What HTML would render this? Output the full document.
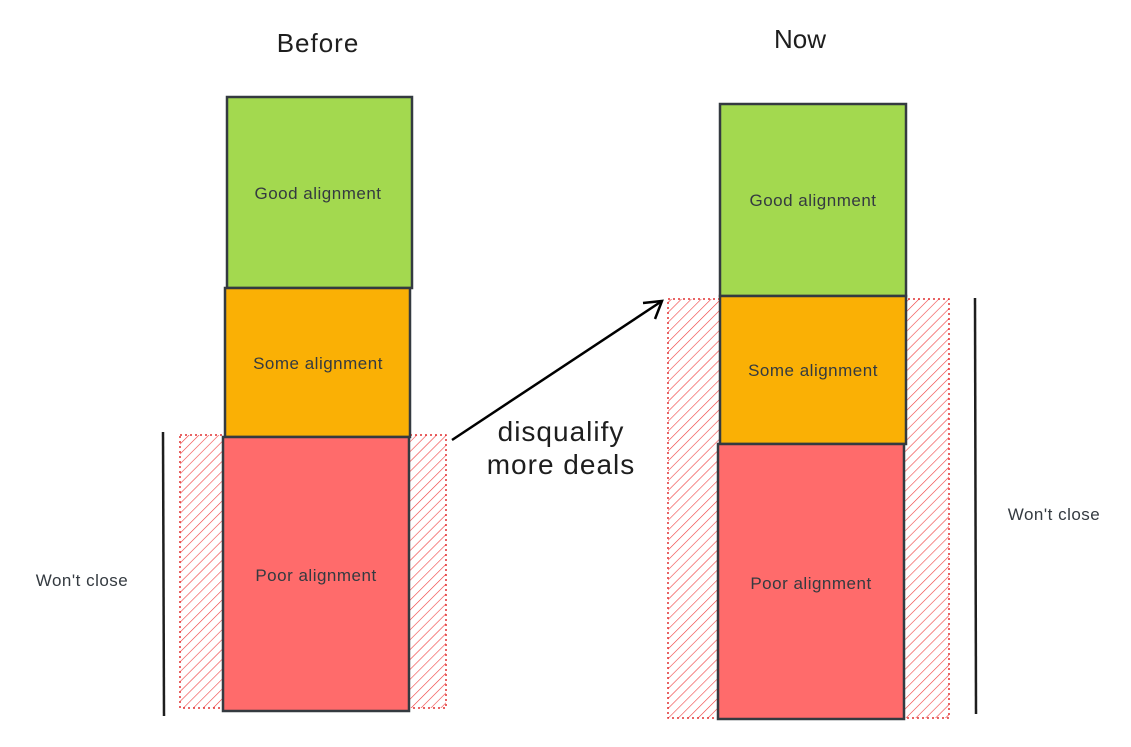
<!DOCTYPE html>
<html><head><style>
html,body{margin:0;padding:0;background:#fff;}
svg{display:block;}
text{font-family:"Comic Sans MS","Liberation Sans",sans-serif;fill:#1e1e1e;}
.l{font-size:17px;fill:#343a40;letter-spacing:0.5px;}
</style></head><body>
<svg width="1131" height="747" viewBox="0 0 1131 747">
<defs>
<pattern id="h" patternUnits="userSpaceOnUse" width="7" height="7" patternTransform="rotate(45)">
<line x1="0" y1="0" x2="0" y2="7" stroke="#f03e3e" stroke-width="1.2"/>
</pattern>
</defs>
<!-- left -->
<rect x="180" y="435" width="266" height="273" fill="url(#h)" stroke="#e03131" stroke-width="1.5" stroke-dasharray="2,3"/>
<rect x="227" y="97" width="185" height="191" fill="#a3d94f" stroke="#343a40" stroke-width="2.5"/>
<rect x="225" y="288" width="185" height="149" fill="#fab005" stroke="#343a40" stroke-width="2.5"/>
<rect x="223" y="437" width="186" height="274" fill="#ff6b6b" stroke="#343a40" stroke-width="2.5"/>
<line x1="163" y1="432" x2="164" y2="716" stroke="#1e1e1e" stroke-width="2.5"/>
<!-- right -->
<rect x="668" y="299" width="281" height="419" fill="url(#h)" stroke="#e03131" stroke-width="1.5" stroke-dasharray="2,3"/>
<rect x="720" y="104" width="186" height="192" fill="#a3d94f" stroke="#343a40" stroke-width="2.5"/>
<rect x="720" y="296" width="186" height="148" fill="#fab005" stroke="#343a40" stroke-width="2.5"/>
<rect x="718" y="444" width="186" height="275" fill="#ff6b6b" stroke="#343a40" stroke-width="2.5"/>
<line x1="975" y1="298" x2="976" y2="714" stroke="#1e1e1e" stroke-width="2.5"/>
<!-- arrow -->
<line x1="452" y1="440" x2="662" y2="301" stroke="#000" stroke-width="2.5"/>
<polyline points="643,303 662,301 655,319" fill="none" stroke="#000" stroke-width="2.5"/>
<!-- text -->
<text x="318" y="52" font-size="26" text-anchor="middle" letter-spacing="1">Before</text>
<text x="800" y="48" font-size="26" text-anchor="middle">Now</text>
<text class="l" x="318" y="199" text-anchor="middle">Good alignment</text>
<text class="l" x="318" y="369" text-anchor="middle">Some alignment</text>
<text class="l" x="316" y="581" text-anchor="middle">Poor alignment</text>
<text class="l" x="813" y="206" text-anchor="middle">Good alignment</text>
<text class="l" x="813" y="376" text-anchor="middle">Some alignment</text>
<text class="l" x="811" y="589" text-anchor="middle">Poor alignment</text>
<text class="l" x="82" y="586" text-anchor="middle">Won't close</text>
<text class="l" x="1054" y="520" text-anchor="middle">Won't close</text>
<text x="561" y="441" font-size="28" text-anchor="middle" letter-spacing="1">disqualify</text>
<text x="561" y="474" font-size="28" text-anchor="middle" letter-spacing="1">more deals</text>
</svg>
</body></html>
